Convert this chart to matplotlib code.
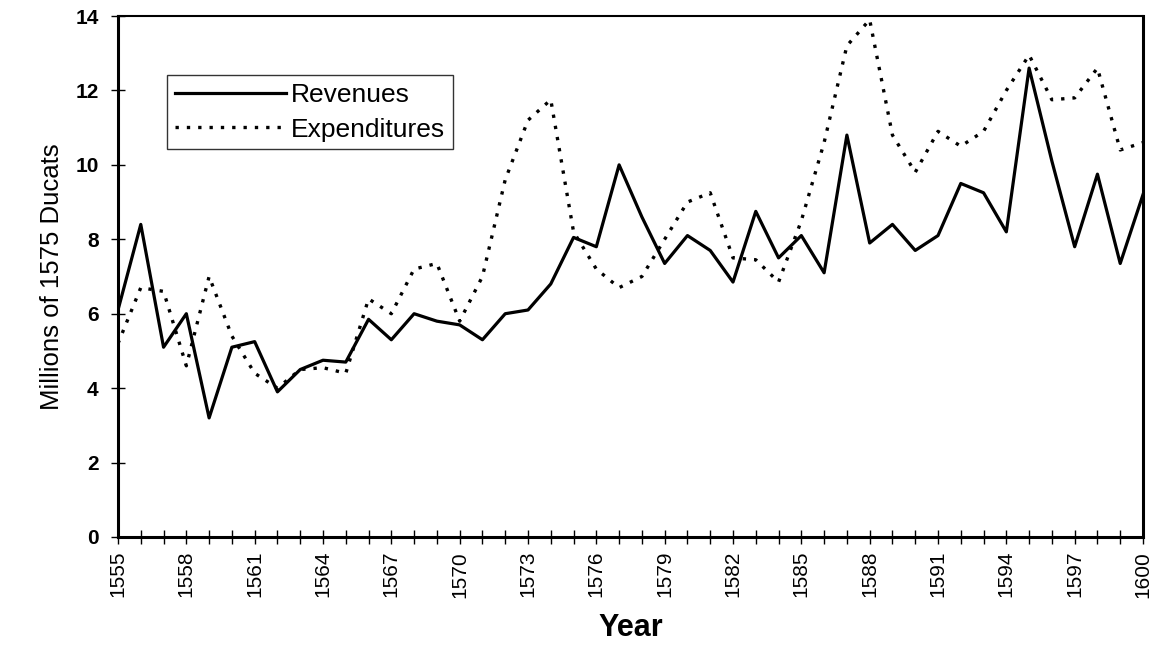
import numpy as np
import matplotlib
matplotlib.use("Agg")
import matplotlib.pyplot as plt
from matplotlib.ticker import MultipleLocator, FixedLocator

years = list(range(1555, 1601))
year_labels = list(range(1555, 1601, 3))

revenues = [6.1, 8.4, 5.1, 6.0, 3.2, 5.1, 5.25, 3.9, 4.5, 4.75,
            4.7, 5.85, 5.3, 6.0, 5.8, 5.7, 5.3, 6.0, 6.1, 6.8,
            8.05, 7.8, 10.0, 8.6, 7.35, 8.1, 7.7, 6.85, 8.75, 7.5,
            8.1, 7.1, 10.8, 7.9, 8.4, 7.7, 8.1, 9.5, 9.25, 8.2,
            12.6, 10.1, 7.8, 9.75, 7.35, 9.2]

expenditures = [5.2, 6.7, 6.6, 4.6, 7.0, 5.4, 4.4, 4.0, 4.5, 4.55,
                4.4, 6.4, 6.0, 7.2, 7.35, 5.8, 7.0, 9.6, 11.2, 11.75,
                8.2, 7.2, 6.7, 7.0, 8.0, 9.0, 9.25, 7.5, 7.45, 6.85,
                8.5, 10.6, 13.2, 13.9, 10.8, 9.8, 10.9, 10.5, 10.9, 12.0,
                12.95, 11.75, 11.8, 12.6, 10.4, 10.6]

plt.rcParams['font.family'] = ['Liberation Sans', 'DejaVu Sans']

fig = plt.figure(figsize=(11.58, 6.45), dpi=100)
ax = fig.add_axes([118 / 1158, 1 - 537 / 645, (1143 - 118) / 1158, (537 - 16) / 645])

ax.plot(years, revenues, color='k', lw=2.3, label='Revenues')
ax.plot(years, expenditures, color='k', lw=2.4, linestyle=(0, (1, 2.4)),
        label='Expenditures')

ax.set_xlim(1555, 1600)
ax.set_ylim(0, 14)
ax.xaxis.set_major_locator(FixedLocator(year_labels))
ax.xaxis.set_minor_locator(MultipleLocator(1))
ax.yaxis.set_major_locator(MultipleLocator(2))
ax.tick_params(axis='x', which='both', direction='inout', length=10, width=1,
               labelsize=15, rotation=90, pad=5)
ax.tick_params(axis='y', direction='inout', length=10, width=1, labelsize=15, pad=9)
for lab in ax.get_yticklabels():
    lab.set_fontweight('bold')

for side in ['left', 'bottom', 'right']:
    ax.spines[side].set_linewidth(2.2)
ax.spines['top'].set_linewidth(1.5)

ax.set_ylabel('Millions of 1575 Ducats', fontsize=18.5, labelpad=8)
ax.set_xlabel('Year', fontsize=22, fontweight='bold', labelpad=11)

leg = ax.legend(loc='upper left', bbox_to_anchor=(0.035, 0.912), fontsize=19,
                frameon=True, fancybox=False, edgecolor='k', handlelength=4.2,
                handletextpad=0.2, borderpad=0.3, labelspacing=0.4)
leg.get_frame().set_linewidth(1)

fig.savefig('out.png', dpi=100)
